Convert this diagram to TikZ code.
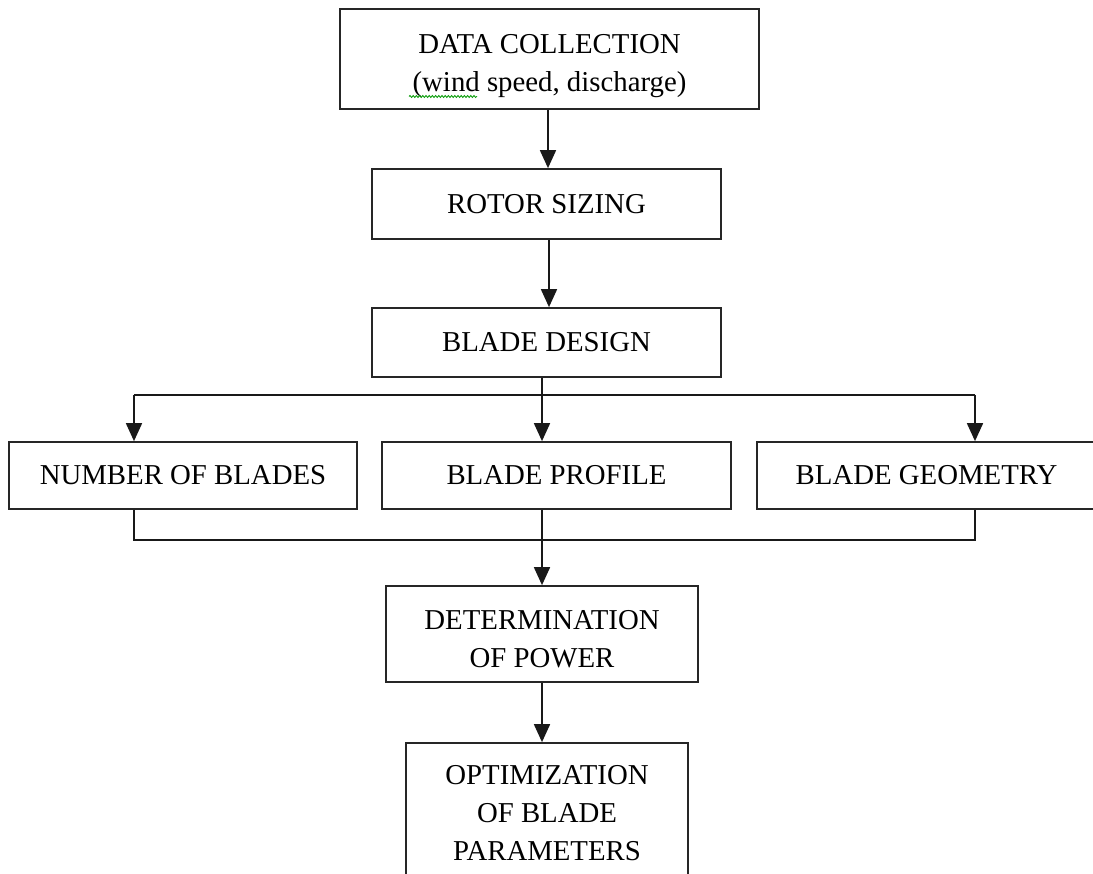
\documentclass[tikz,border=0pt]{standalone}
\usepackage{fontspec}
\setmainfont{Liberation Serif}
\usetikzlibrary{arrows.meta,decorations.pathmorphing}
\begin{document}
\begin{tikzpicture}[x=1pt,y=-1pt,
  box/.style={draw=black!85, line width=1.7pt, fill=none, inner sep=0pt,
    align=center, font=\fontsize{28.8}{37.5}\selectfont},
  txt/.style={inner sep=0pt, align=center, font=\fontsize{28.8}{38}\selectfont},
  link/.style={draw=black!90, line width=1.7pt},
  arr/.style={link, -{Triangle[length=18pt,width=16pt]}}]
\fill[white] (0,0) rectangle (1093,874);
\clip (0,0) rectangle (1093,874);
% boxes
\node[box, minimum width=419pt, minimum height=100pt] (data) at (549.5,59) {};
\node[txt] (datatext) at (549.5,66) {DATA COLLECTION\\(wind speed, discharge)};
\node[box, minimum width=349pt, minimum height=70pt] (rotor) at (546.5,204) {ROTOR SIZING};
\node[box, minimum width=349pt, minimum height=69pt] (design) at (546.5,342.5) {BLADE DESIGN};
\node[box, minimum width=348pt, minimum height=67pt] (num) at (183,475.5) {NUMBER OF BLADES};
\node[box, minimum width=349pt, minimum height=67pt] (prof) at (556.5,475.5) {BLADE PROFILE};
\node[box, minimum width=339pt, minimum height=67pt] (geom) at (926.5,475.5) {BLADE GEOMETRY};
\node[box, minimum width=312pt, minimum height=96pt] (det) at (542,634) {};
\node[txt] (dettext) at (542,639) {DETERMINATION\\OF POWER};
\node[box, minimum width=282pt, minimum height=157pt] (opt) at (547,821.5) {};
\node[txt] (opttext) at (547,813) {OPTIMIZATION\\OF BLADE\\PARAMETERS};
% spell-check squiggle
\coordinate (sqa) at (409,96.5);
\coordinate (sqb) at (477,96.5);
\draw[green!60!black, line width=0.8pt, decorate,
  decoration={snake, amplitude=1pt, segment length=3.2pt}] (sqa) -- (sqb);
% connectors
\draw[arr] (548,0 |- data.south) -- (548,0 |- rotor.north);
\draw[arr] (549,0 |- rotor.south) -- (549,0 |- design.north);
\coordinate (bc) at (542,395);
\coordinate (bl) at (134,395);
\coordinate (br) at (975,395);
\draw[link] (bc |- design.south) -- (bc);
\draw[link] (bl) -- (br);
\draw[arr] (bl) -- (bl |- num.north);
\draw[arr] (bc) -- (bc |- prof.north);
\draw[arr] (br) -- (br |- geom.north);
\coordinate (ml) at (134,540);
\coordinate (mc) at (542,540);
\coordinate (mr) at (975,540);
\draw[link] (ml |- num.south) -- (ml) -- (mr) -- (mr |- geom.south);
\draw[link] (mc |- prof.south) -- (mc);
\draw[arr] (mc) -- (mc |- det.north);
\draw[arr] (det.south) -- (det.south |- opt.north);
\end{tikzpicture}
\end{document}
